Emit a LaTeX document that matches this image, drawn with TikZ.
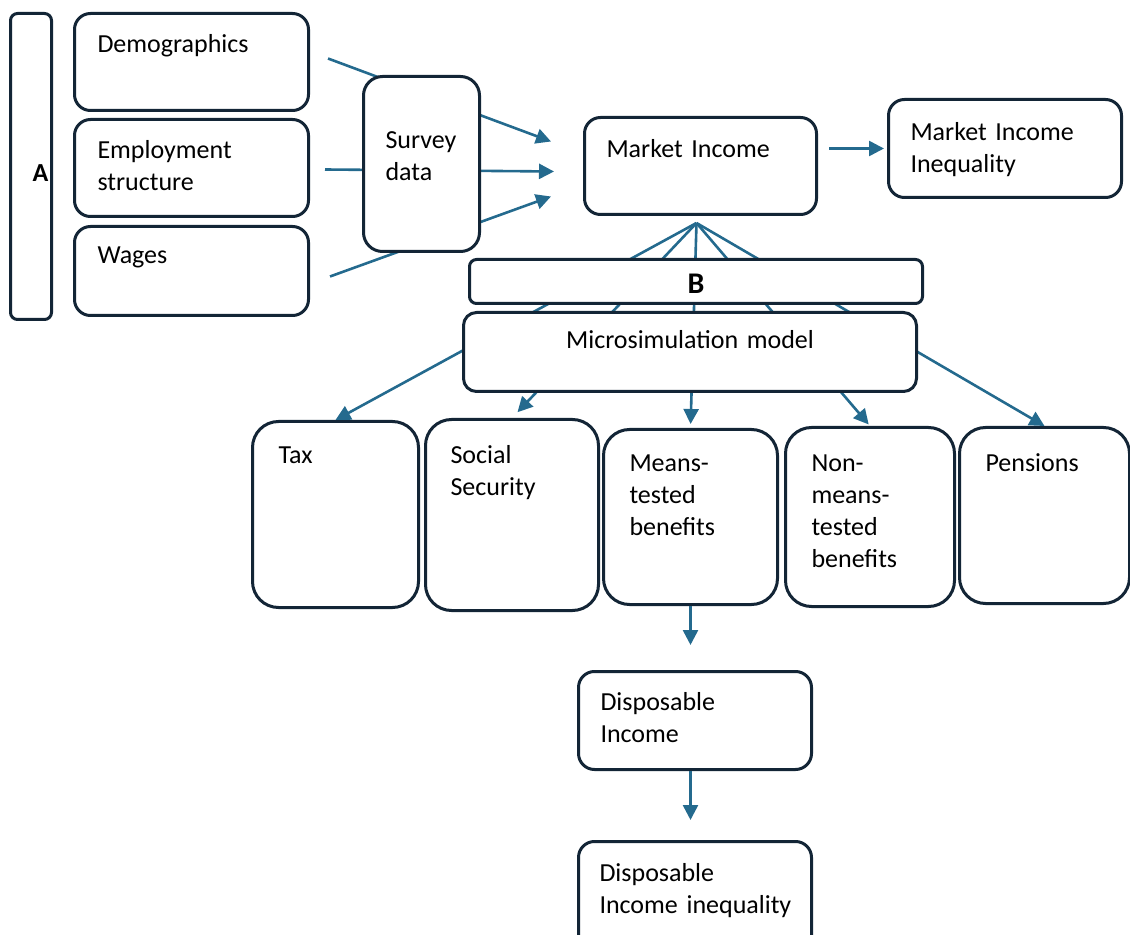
\documentclass[tikz,border=0pt]{standalone}
\usepackage{fontspec}
\setmainfont{Carlito}
\usetikzlibrary{arrows.meta}
\definecolor{boxline}{HTML}{132536}
\definecolor{arrowline}{HTML}{246A8E}

\begin{document}
\begin{tikzpicture}[
    x=0.5pt, y=-0.5pt,
    every node/.style={font=\fontsize{13}{16}\selectfont},
    box/.style={draw=boxline, line width=1.5pt, fill=white, rounded corners=8pt, anchor=north west, inner ysep=0pt, inner xsep=11.5pt, align=left},
    dims/.style n args={3}{text width=#1pt, text height=#2pt, text depth=#3pt},
    arr/.style={draw=arrowline, line width=1.3pt, -{Triangle[length=7.5pt, width=7.5pt]}}
    ]

    \useasboundingbox (0,0) rectangle (1130,935);
    \clip (0,0) rectangle (1130,935);

    \node[box, dims={17.5}{84}{69}, align=right, inner xsep=1.5pt, rounded corners=3.5pt, font=\fontsize{13}{16}\selectfont\bfseries] (secA) at (9,12) {A};
    \node[box, dims={94}{19.5}{29}] (demo) at (73,12) {Demographics};
    \node[box, dims={94}{19.5}{29}] (employ) at (73,118) {Employment\\structure};
    \node[box, dims={94}{18.5}{26}] (wages) at (73,225) {Wages};

    \node[box, dims={94}{20}{28.5}, inner xsep=11pt] (market) at (583,116) {Market Income};
    \node[box, dims={94.5}{20.5}{28.5}, inner xsep=11pt] (mii) at (887,98) {Market Income\\Inequality};

    \node[box, dims={57}{21}{72}, inner xsep=13pt, rounded corners=13pt] (tax) at (251,420) {Tax};
    \node[box, dims={61.5}{22}{73.5}, inner xsep=12.5pt, rounded corners=13pt] (social) at (424,418) {Social\\Security};
    \node[box, dims={61}{21}{66.5}, inner xsep=13pt, rounded corners=13pt] (means) at (602,428) {Means-\\tested\\benefits};
    \node[box, dims={58.5}{22}{67.5}, inner xsep=13pt, rounded corners=13pt] (nonmeans) at (784,426) {Non-\\means-\\tested\\benefits};
    \node[box, dims={59}{22}{66}, inner xsep=13pt, rounded corners=13pt] (pensions) at (958,426) {Pensions};

    \node[box, dims={94.5}{19.5}{29.5}, inner xsep=11pt] (dispinc) at (577,670) {Disposable\\Income};
    \node[box, dims={95.5}{20}{35}, inner xsep=10.5pt] (dispineq) at (577,840) {Disposable\\\mbox{Income inequality}};

    \draw[arr] ([xshift=9pt,yshift=1.75pt]demo.east) -- ([xshift=-16pt,yshift=12.25pt]market.west);
    \draw[arr] ([xshift=7.5pt,yshift=-0.75pt]employ.east) -- ([xshift=-14.5pt,yshift=-2.75pt]market.west);
    \draw[arr] ([xshift=10pt,yshift=-2.75pt]wages.east) -- ([xshift=-16pt,yshift=-15.25pt]market.west);
    \draw[arr] ([xshift=5.5pt,yshift=8.75pt]market.east) -- ([xshift=-1.5pt]mii.west);

    \coordinate (fan) at ([xshift=-2pt,yshift=-3.5pt]market.south);
    \foreach \t/\s in {tax/0pt, social/4pt, means/2pt, nonmeans/1pt, pensions/0pt}
        \draw[arr, shorten >=\s] (fan) -- (\t.north);

    \draw[arr, shorten >=12.5pt] (means.south) -- (means.south |- dispinc.north);
    \draw[arr, shorten >=10pt] (dispinc.south -| means.south) -- (dispineq.north -| means.south);

    \node[box, dims={36}{36}{51.5}, inner xsep=11pt, rounded corners=9.5pt] (survey) at (362,75) {Survey\\data};
    \node[box, dims={203.5}{17}{5}, align=center, rounded corners=3.5pt, font=\fontsize{15}{18}\selectfont\bfseries] (secB) at (468,258) {B};
    \node[box, dims={203.5}{18}{21.5}, align=center, rounded corners=6.5pt] (micro) at (462,311) {Microsimulation model};

\end{tikzpicture}
\end{document}
